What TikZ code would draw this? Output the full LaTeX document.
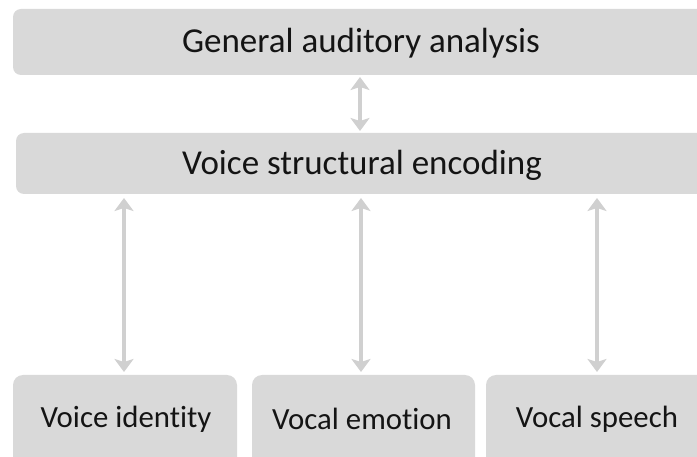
\documentclass[tikz,border=0pt]{standalone}
\usepackage{fontspec}
\setmainfont{Carlito}[Ligatures=NoCommon]
\usetikzlibrary{arrows.meta}
\definecolor{boxfill}{HTML}{D9D9D9}
\definecolor{linkcol}{HTML}{D0D0D0}
\definecolor{textcol}{HTML}{141414}
\begin{document}
\begin{tikzpicture}[x=1pt,y=-1pt,
  panel/.style={fill=boxfill, draw=none, rounded corners=8pt},
  label/.style={text=textcol, font=\fontsize{35}{40}\selectfont},
  smalllabel/.style={text=textcol, font=\fontsize{30.8}{36}\selectfont},
  link/.style={draw=linkcol, line width=4.5pt,
    {Stealth[length=13pt,width=19pt,inset=3pt]}-{Stealth[length=13pt,width=19pt,inset=3pt]}}]
\useasboundingbox (0,0) rectangle (697,457);
\clip (0,0) rectangle (697,457);
% panels
\path[panel] (13,9) rectangle (712,75);
\path[panel] (16,133) rectangle (712,194);
\path[panel, rounded corners=10pt] (13,375) rectangle (237,470);
\path[panel, rounded corners=10pt] (252,375) rectangle (475,470);
\path[panel, rounded corners=10pt] (486,375) rectangle (712,470);
% labels
\node[label] (gaa) at (361,43) {General auditory analysis};
\node[label] (vse) at (362,165) {Voice structural encoding};
\node[smalllabel] (vid) at (126,419) {Voice identity};
\node[smalllabel] (vem) at (362,419) {Vocal emotion};
\node[smalllabel] (vsp) at (597,419) {Vocal speech};
% anchor points on panel edges
\coordinate (a1) at (360,77);
\coordinate (a2) at (360,131);
\coordinate (b1) at (124,198);
\coordinate (b2) at (124,372);
\coordinate (c1) at (361,198);
\coordinate (c2) at (361,372);
\coordinate (d1) at (597,198);
\coordinate (d2) at (597,372);
% links
\draw[link] (a1) -- (a2);
\draw[link] (b1) -- (b2);
\draw[link] (c1) -- (c2);
\draw[link] (d1) -- (d2);
\end{tikzpicture}
\end{document}
